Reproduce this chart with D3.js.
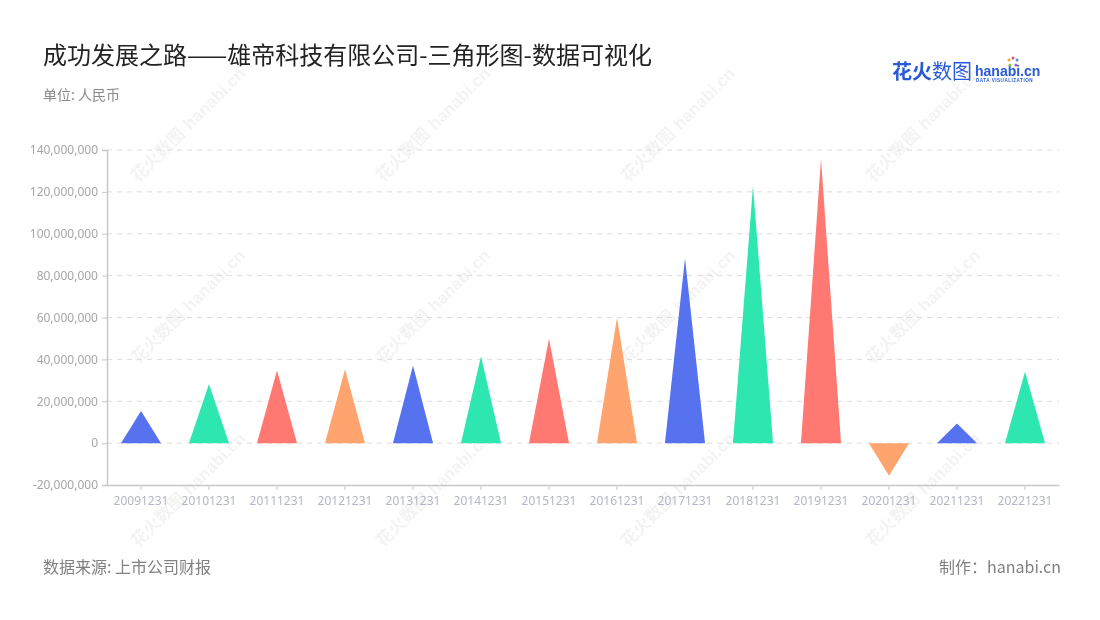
<!DOCTYPE html>
<html>
<head>
<meta charset="utf-8">
<script src="https://cdn.jsdelivr.net/npm/d3@7/dist/d3.min.js"></script>
<style>
  html, body { margin: 0; padding: 0; background: #fff; }
  svg { display: block; font-family: "Noto Sans CJK SC", "Noto Sans", sans-serif; }
</style>
</head>
<body>
<svg id="chart" width="1100" height="620"></svg>
<script>
const categories = ["20091231","20101231","20111231","20121231","20131231","20141231","20151231","20161231","20171231","20181231","20191231","20201231","20211231","20221231"];
const values = [15400000, 28200000, 34700000, 35300000, 37100000, 41500000, 49800000, 60000000, 88300000, 122900000, 135700000, -15600000, 9400000, 34100000];
const yTicks = [-20000000, 0, 20000000, 40000000, 60000000, 80000000, 100000000, 120000000, 140000000];
const palette = ["#5672ef", "#2ee6b0", "#ff7872", "#ffa46f"];

const svg = d3.select("#chart");
const pLeft = 107, pRight = 1059, pTop = 150, pBottom = 485;

// watermarks
const wm = svg.append("g").attr("fill", "#000").attr("opacity", 0.05);
[138, 383, 628, 873].forEach(x => {
  [183, 365, 548].forEach(y => {
    const g = wm.append("g").attr("transform", `translate(${x},${y}) rotate(-45)`);
    g.append("text").attr("font-size", 17).attr("font-weight", 700).text("花火数图");
    g.append("text").attr("x", 74).attr("font-size", 17).attr("font-weight", 700).attr("font-family", "Arial, sans-serif").text("hanabi.cn");
  });
});

const x = d3.scaleBand().domain(categories).range([pLeft, pRight]).padding(0);
const y = d3.scaleLinear().domain([-20000000, 140000000]).range([pBottom, pTop]);
const fmt = d => d3.format(",")(d).replace("−", "-");

// grid
svg.append("g").selectAll("line").data(yTicks.filter(d => d !== -20000000)).join("line")
  .attr("x1", pLeft).attr("x2", pRight)
  .attr("y1", d => y(d)).attr("y2", d => y(d))
  .attr("stroke", "#dcdcdc").attr("stroke-dasharray", "5,5");

// y axis
const yAxis = svg.append("g").attr("transform", `translate(${pLeft},0)`)
  .call(d3.axisLeft(y).tickValues(yTicks).tickFormat(fmt).tickSize(5).tickPadding(4));
yAxis.select(".domain").attr("stroke", "#c8c8c8").attr("stroke-width", 1.5);
yAxis.selectAll(".tick line").attr("stroke", "#c8c8c8");
yAxis.selectAll("text").attr("fill", "#a6a6a6").attr("font-size", 12).attr("font-family", "Noto Sans, sans-serif");

// x axis
const xAxis = svg.append("g").attr("transform", `translate(0,${pBottom})`)
  .call(d3.axisBottom(x).tickSize(5).tickPadding(6).tickSizeOuter(0));
xAxis.select(".domain").attr("stroke", "#c8c8c8").attr("stroke-width", 1.5);
xAxis.selectAll(".tick line").attr("stroke", "#c8c8c8");
xAxis.selectAll("text").attr("fill", "#b3b6c4").attr("font-size", 12).attr("font-family", "Noto Sans, sans-serif");

// triangles
const w = x.bandwidth() * 0.59;
svg.append("g").selectAll("path").data(categories).join("path")
  .attr("d", (c, i) => {
    const cx = x(c) + x.bandwidth() / 2;
    return `M${cx - w / 2},${y(0)}L${cx},${y(values[i])}L${cx + w / 2},${y(0)}Z`;
  })
  .attr("fill", (c, i) => palette[i % 4]);

// titles
svg.append("text").attr("x", 43).attr("y", 64).attr("font-size", 24).attr("fill", "#222")
  .text("成功发展之路——雄帝科技有限公司-三角形图-数据可视化");
svg.append("text").attr("x", 43).attr("y", 100).attr("font-size", 14).attr("fill", "#8a8a8a")
  .text("单位: 人民币");
svg.append("text").attr("x", 43).attr("y", 573).attr("font-size", 16).attr("fill", "#808080")
  .text("数据来源: 上市公司财报");
svg.append("text").attr("x", 1061).attr("y", 573).attr("font-size", 16).attr("fill", "#808080")
  .attr("text-anchor", "end").text("制作：hanabi.cn");

// logo
const logo = svg.append("g");
logo.append("text").attr("x", 892).attr("y", 79).attr("font-size", 20).attr("font-weight", 700)
  .attr("fill", "#2a5bd7").text("花火");
logo.append("text").attr("x", 932).attr("y", 79).attr("font-size", 20).attr("font-weight", 400)
  .attr("fill", "#2a5bd7").text("数图");
logo.append("text").attr("x", 975).attr("y", 76).attr("font-size", 14).attr("font-weight", 700)
  .attr("font-family", "Arial, sans-serif").attr("fill", "#2a5bd7").text("hanabi.cn");
logo.append("text").attr("x", 976).attr("y", 82).attr("font-size", 4.6).attr("font-weight", 700)
  .attr("font-family", "Arial, sans-serif").attr("fill", "#2a5bd7").attr("letter-spacing", 0.5).text("DATA VISUALIZATION");
[["#f5a623",-4,-3],["#e94e77",0,-5],["#4a90e2",4,-3],["#7ed321",-3,2],["#9b59b6",3,2]].forEach(([c,dx,dy]) => {
  logo.append("circle").attr("cx", 1013 + dx).attr("cy", 63 + dy).attr("r", 1.5).attr("fill", c);
});
</script>
</body>
</html>
